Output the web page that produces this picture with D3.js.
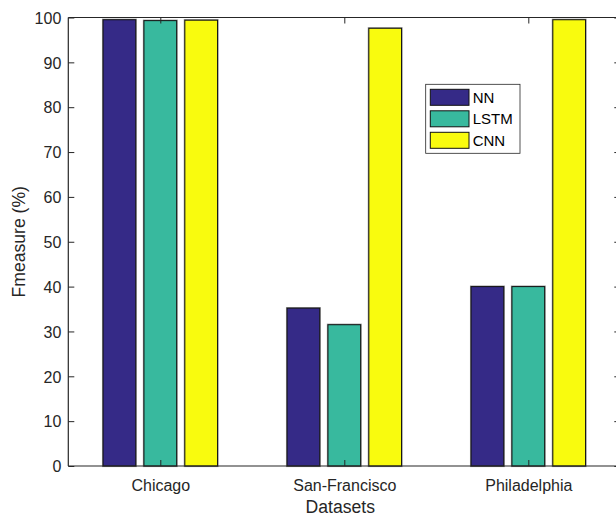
<!DOCTYPE html>
<html>
<head>
<meta charset="utf-8">
<script src="https://cdn.jsdelivr.net/npm/d3@7"></script>
<style>
  html, body { margin: 0; padding: 0; background: #fff; }
  svg { display: block; font-family: "Liberation Sans", Arial, sans-serif; }
</style>
</head>
<body>
<svg id="chart" width="616" height="517"></svg>
<script>
const categories = ["Chicago", "San-Francisco", "Philadelphia"];
const seriesNames = ["NN", "LSTM", "CNN"];
const nnValues = [99.5, 35.2, 40.0];
const lstmValues = [99.3, 31.5, 40.0];
const cnnValues = [99.4, 97.6, 99.5];
const yTicks = [0, 10, 20, 30, 40, 50, 60, 70, 80, 90, 100];
const colors = ["#352a87", "#38b99e", "#f9fb0e"];
const seriesValues = [nnValues, lstmValues, cnnValues];

const svg = d3.select("#chart");
const axisColor = "#262626";

const x = d3.scaleLinear().domain([0.5, 3.5]).range([68.3, 620.3]);
const y = d3.scaleLinear().domain([0, 100]).range([466, 17.5]);

// bars (MATLAB grouped layout)
const nS = seriesNames.length;
const groupWidth = Math.min(0.8, nS / (nS + 1.5));
const barW = groupWidth / nS * 0.8;
const offsets = seriesNames.map((_, i) => (i - (nS - 1) / 2) * groupWidth / nS);

const barsG = svg.append("g");
seriesValues.forEach((vals, si) => {
  vals.forEach((v, ci) => {
    const cx = ci + 1 + offsets[si];
    const x0 = x(cx - barW / 2), x1 = x(cx + barW / 2);
    // halo
    barsG.append("rect")
      .attr("x", x0).attr("y", y(v))
      .attr("width", x1 - x0).attr("height", y(0) - y(v))
      .attr("fill", "none").attr("stroke", "#9a9a9a").attr("stroke-width", 2.2);
    barsG.append("rect")
      .attr("x", x0).attr("y", y(v))
      .attr("width", x1 - x0).attr("height", y(0) - y(v))
      .attr("fill", colors[si]).attr("stroke", "#111").attr("stroke-width", 1);
  });
});

// axes
const tickLen = 6;
const leftAxis = d3.axisLeft(y).tickValues(yTicks).tickSize(-tickLen).tickPadding(7).tickFormat(d3.format("d"));
const gl = svg.append("g").attr("transform", `translate(${x.range()[0]},0)`).call(leftAxis);
const rightAxis = d3.axisRight(y).tickValues(yTicks).tickSize(-tickLen).tickFormat("");
const gr = svg.append("g").attr("transform", `translate(${x.range()[1]},0)`).call(rightAxis);
const bottomAxis = d3.axisBottom(x).tickValues([1, 2, 3]).tickSize(-tickLen).tickPadding(14)
  .tickFormat((d) => categories[d - 1]);
const gb = svg.append("g").attr("transform", `translate(0,${y(0)})`).call(bottomAxis);
const topAxis = d3.axisTop(x).tickValues([1, 2, 3]).tickSize(-tickLen).tickFormat("");
const gt = svg.append("g").attr("transform", `translate(0,${y(100)})`).call(topAxis);

[gl, gr, gb, gt].forEach(g => {
  g.selectAll(".domain").attr("stroke", axisColor).attr("stroke-width", 1.2);
  g.selectAll(".tick line").attr("stroke", axisColor).attr("stroke-width", 1);
  g.selectAll("text").attr("fill", axisColor).style("font-size", "16px")
    .style("font-family", "'Liberation Sans', Arial, sans-serif");
});
gl.selectAll(".domain").attr("d", `M0,${y(0)}V${y(100)}`);
gr.selectAll(".domain").attr("d", `M0,${y(0)}V${y(100)}`);
gb.selectAll(".domain").attr("d", `M${x.range()[0]},0H${x.range()[1]}`);
gt.selectAll(".domain").attr("d", `M${x.range()[0]},0H${x.range()[1]}`);
gl.selectAll("text").attr("dy", "0.36em");

// axis titles
svg.append("text")
  .attr("x", (x.range()[0] + x.range()[1]) / 2 - 4).attr("y", 513)
  .attr("text-anchor", "middle").attr("fill", axisColor)
  .style("font-size", "17.6px").text("Datasets");
svg.append("text")
  .attr("transform", `translate(24.5,${(y(0) + y(100)) / 2}) rotate(-90)`)
  .attr("text-anchor", "middle").attr("fill", axisColor)
  .style("font-size", "17.6px").text("Fmeasure (%)");

// legend
const lg = svg.append("g").attr("transform", "translate(425.7,84.3)");
lg.append("rect").attr("x", 0).attr("y", 0).attr("width", 94.3).attr("height", 69)
  .attr("fill", "#fff").attr("stroke", "#262626").attr("stroke-width", 0.8);
seriesNames.forEach((name, i) => {
  const ry = 5 + i * 21.5;
  lg.append("rect").attr("x", 4.6).attr("y", ry).attr("width", 38.7).attr("height", 16)
    .attr("fill", colors[i]).attr("stroke", "#111").attr("stroke-width", 1);
  lg.append("text").attr("x", 47).attr("y", ry + 8).attr("dy", "0.36em")
    .attr("fill", "#000").style("font-size", "15px").text(name);
});
</script>
</body>
</html>
